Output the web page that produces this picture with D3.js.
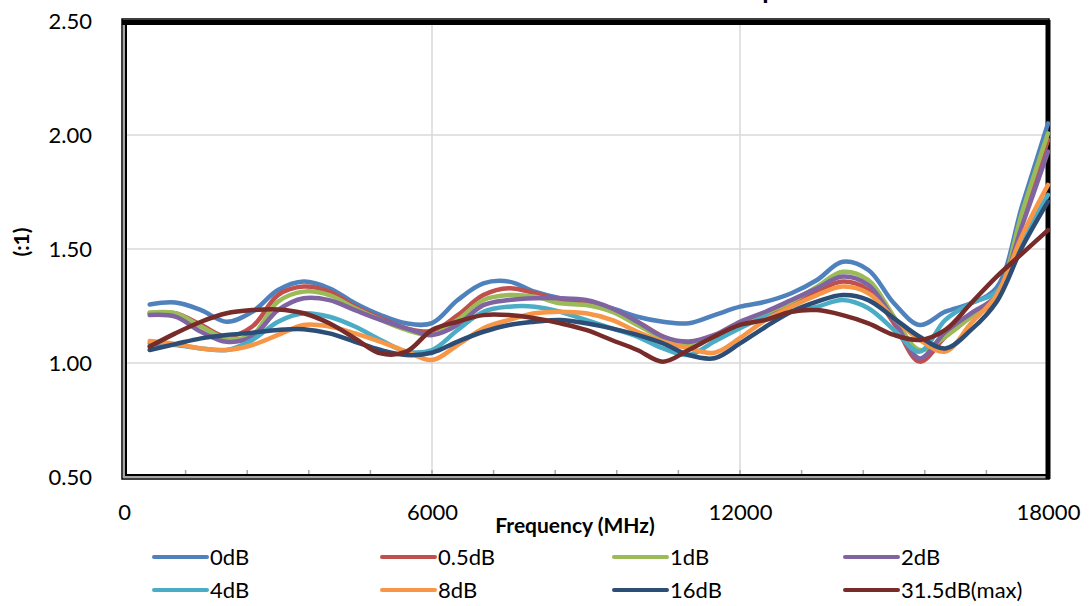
<!DOCTYPE html>
<html>
<head>
<meta charset="utf-8">
<script src="https://cdn.jsdelivr.net/npm/d3@7/dist/d3.min.js"></script>
<style>
  body { margin: 0; background: #fff; }
  svg { font-family: Lato, "Open Sans", sans-serif; }
</style>
</head>
<body>
<svg id="chart" width="1089" height="606"></svg>
<script>
// frequencies (MHz) of the sampled points
const freqs = [500, 1000, 1500, 2000, 2500, 3000, 3500, 4000, 4500, 5000, 5500, 6000,
    6500, 7000, 7500, 8000, 8500, 9000, 9500, 10000, 10500, 11000, 11500, 12000,
    12500, 13000, 13500, 14000, 14500, 15000, 15500, 16000, 16500, 17000, 17500, 18000];

// VSWR per attenuation state
const vswr0 = [1.257, 1.265, 1.232, 1.181, 1.225, 1.320, 1.357, 1.328, 1.262, 1.210, 1.174, 1.175,
    1.276, 1.349, 1.357, 1.313, 1.284, 1.269, 1.240, 1.203, 1.181, 1.174, 1.210, 1.247,
    1.269, 1.306, 1.364, 1.444, 1.408, 1.262, 1.167, 1.225, 1.262, 1.330, 1.693, 2.051];
const vswr05 = [1.218, 1.218, 1.167, 1.116, 1.160, 1.298, 1.335, 1.313, 1.247, 1.196, 1.152, 1.140,
    1.210, 1.298, 1.328, 1.306, 1.276, 1.262, 1.232, 1.181, 1.116, 1.079, 1.116, 1.167,
    1.210, 1.262, 1.313, 1.357, 1.320, 1.174, 1.006, 1.115, 1.203, 1.280, 1.627, 1.978];
const vswr1 = [1.221, 1.218, 1.160, 1.108, 1.123, 1.269, 1.313, 1.298, 1.240, 1.189, 1.145, 1.123,
    1.189, 1.276, 1.298, 1.291, 1.262, 1.254, 1.225, 1.167, 1.108, 1.072, 1.116, 1.160,
    1.218, 1.269, 1.335, 1.400, 1.364, 1.203, 1.057, 1.115, 1.203, 1.291, 1.664, 2.007];
const vswr2 = [1.210, 1.203, 1.137, 1.093, 1.116, 1.232, 1.284, 1.276, 1.232, 1.189, 1.152, 1.123,
    1.167, 1.254, 1.276, 1.284, 1.284, 1.276, 1.240, 1.181, 1.116, 1.094, 1.123, 1.181,
    1.225, 1.276, 1.328, 1.379, 1.342, 1.189, 1.020, 1.137, 1.218, 1.298, 1.605, 1.927];
const vswr4 = [1.086, 1.079, 1.064, 1.057, 1.101, 1.181, 1.218, 1.203, 1.160, 1.101, 1.050, 1.057,
    1.145, 1.225, 1.247, 1.247, 1.225, 1.189, 1.152, 1.116, 1.064, 1.035, 1.094, 1.152,
    1.203, 1.225, 1.247, 1.276, 1.240, 1.145, 1.050, 1.189, 1.262, 1.313, 1.540, 1.737];
const vswr8 = [1.096, 1.083, 1.064, 1.057, 1.079, 1.123, 1.167, 1.160, 1.130, 1.093, 1.050, 1.013,
    1.079, 1.152, 1.189, 1.218, 1.225, 1.218, 1.189, 1.137, 1.094, 1.064, 1.045, 1.110,
    1.189, 1.247, 1.298, 1.335, 1.306, 1.196, 1.101, 1.050, 1.174, 1.298, 1.561, 1.781];
const vswr16 = [1.057, 1.083, 1.108, 1.123, 1.133, 1.145, 1.148, 1.130, 1.093, 1.057, 1.035, 1.045,
    1.094, 1.137, 1.167, 1.181, 1.189, 1.174, 1.152, 1.123, 1.086, 1.035, 1.021, 1.086,
    1.159, 1.225, 1.269, 1.298, 1.276, 1.196, 1.115, 1.064, 1.145, 1.269, 1.510, 1.708];
const vswr315 = [1.072, 1.130, 1.181, 1.218, 1.232, 1.235, 1.218, 1.174, 1.108, 1.042, 1.050, 1.145,
    1.181, 1.210, 1.210, 1.196, 1.174, 1.145, 1.101, 1.057, 1.006, 1.057, 1.116, 1.167,
    1.189, 1.225, 1.232, 1.210, 1.174, 1.123, 1.101, 1.145, 1.262, 1.379, 1.481, 1.583];

const seriesNames = ["0dB", "0.5dB", "1dB", "2dB", "4dB", "8dB", "16dB", "31.5dB(max)"];
const seriesValues = [vswr0, vswr05, vswr1, vswr2, vswr4, vswr8, vswr16, vswr315];
const colors = ["#4F81BD", "#C0504D", "#9BBB59", "#8064A2", "#4BACC6", "#F79646", "#2C4D75", "#772C2A"];

const xTicks = [0, 6000, 12000, 18000];
const yTicks = [0.5, 1.0, 1.5, 2.0, 2.5];

const svg = d3.select("#chart");
const margin = { top: 21, right: 41, bottom: 129, left: 124 };
const width = +svg.attr("width");
const height = +svg.attr("height");

const x = d3.scaleLinear()
    .domain([0, 18000])
    .range([margin.left, width - margin.right]);

const y = d3.scaleLinear()
    .domain([0.5, 2.5])
    .range([height - margin.bottom, margin.top]);

// chart title, pushed up so only its descender shows (as cropped in the reference)
svg.append("text")
    .attr("x", 717)
    .attr("y", -1)
    .attr("font-size", 26)
    .attr("font-weight", "bold")
    .attr("fill", "#000")
    .text("Output VSWR");

// gridlines
svg.append("g")
    .selectAll("line")
    .data([1.0, 1.5, 2.0])
    .enter().append("line")
    .attr("x1", x(0)).attr("x2", x(18000))
    .attr("y1", d => y(d)).attr("y2", d => y(d))
    .attr("stroke", "#d9d9d9")
    .attr("stroke-width", 1.5);

svg.append("g")
    .selectAll("line")
    .data([6000, 12000])
    .enter().append("line")
    .attr("x1", d => x(d)).attr("x2", d => x(d))
    .attr("y1", y(2.5)).attr("y2", y(0.5))
    .attr("stroke", "#d9d9d9")
    .attr("stroke-width", 1.5);

// minor ticks along the bottom, pointing inward
svg.append("g")
    .selectAll("line")
    .data(d3.range(1200, 18000, 1200))
    .enter().append("line")
    .attr("x1", d => x(d)).attr("x2", d => x(d))
    .attr("y1", y(0.5) - 2).attr("y2", y(0.5) - 7)
    .attr("stroke", "#a6a6a6")
    .attr("stroke-width", 1.5);

// plot frame: double line left/bottom, heavy line top/right
const frame = svg.append("g");
frame.append("rect")
    .attr("x", 122).attr("y", 19)
    .attr("width", 927).attr("height", 460)
    .attr("fill", "none").attr("stroke", "#000").attr("stroke-width", 1.5);
frame.append("line")
    .attr("x1", 124).attr("x2", 124).attr("y1", 21).attr("y2", 478)
    .attr("stroke", "#a6a6a6").attr("stroke-width", 2);
frame.append("line")
    .attr("x1", 123).attr("x2", 1048).attr("y1", 477).attr("y2", 477)
    .attr("stroke", "#a6a6a6").attr("stroke-width", 2);
frame.append("line")
    .attr("x1", 126).attr("x2", 126).attr("y1", 22).attr("y2", 476)
    .attr("stroke", "#000").attr("stroke-width", 2);
frame.append("line")
    .attr("x1", 125).attr("x2", 1048).attr("y1", 475).attr("y2", 475)
    .attr("stroke", "#000").attr("stroke-width", 2);
frame.append("line")
    .attr("x1", 122).attr("x2", 1050).attr("y1", 22.5).attr("y2", 22.5)
    .attr("stroke", "#000").attr("stroke-width", 5);
frame.append("line")
    .attr("x1", 1048).attr("x2", 1048).attr("y1", 20).attr("y2", 479)
    .attr("stroke", "#000").attr("stroke-width", 5);

// lines
const line = d3.line()
    .x(d => x(d[0]))
    .y(d => y(d[1]))
    .curve(d3.curveCatmullRom.alpha(0.5));

svg.append("g")
    .selectAll("path")
    .data(seriesValues)
    .enter().append("path")
    .attr("d", vals => line(freqs.map((f, i) => [f, vals[i]])))
    .attr("fill", "none")
    .attr("stroke", (d, i) => colors[i])
    .attr("stroke-width", 4.5)
    .attr("stroke-linejoin", "round")
    .attr("stroke-linecap", "round");

// axes
const yAxis = svg.append("g")
    .attr("transform", `translate(${margin.left},0)`)
    .call(d3.axisLeft(y).tickValues(yTicks).tickFormat(d3.format(".2f")).tickSize(0).tickPadding(32));
yAxis.select(".domain").remove();
yAxis.selectAll("text").attr("font-size", 22).attr("font-family", "Lato, sans-serif").attr("fill", "#000");

const xAxis = svg.append("g")
    .attr("transform", `translate(0,${height - margin.bottom})`)
    .call(d3.axisBottom(x).tickValues(xTicks).tickFormat(d3.format("d")).tickSize(0).tickPadding(27));
xAxis.select(".domain").remove();
xAxis.selectAll("text").attr("font-size", 22).attr("font-family", "Lato, sans-serif").attr("fill", "#000");

// axis titles
svg.append("text")
    .attr("x", 575)
    .attr("y", 533)
    .attr("text-anchor", "middle")
    .attr("font-size", 21)
    .attr("font-weight", "bold")
    .text("Frequency (MHz)");

svg.append("text")
    .attr("transform", "translate(29,242) rotate(-90)")
    .attr("text-anchor", "middle")
    .attr("font-size", 21)
    .attr("font-weight", "bold")
    .text("(:1)");

// legend: 4 columns x 2 rows
const legendX = [154, 382, 614, 845];
const legendY = [557, 590];
const legend = svg.append("g")
    .selectAll("g")
    .data(seriesNames)
    .enter().append("g")
    .attr("transform", (d, i) => `translate(${legendX[i % 4]},${legendY[Math.floor(i / 4)]})`);

legend.append("line")
    .attr("x1", 0).attr("x2", 53)
    .attr("y1", 0).attr("y2", 0)
    .attr("stroke", (d, i) => colors[i])
    .attr("stroke-width", 4)
    .attr("stroke-linecap", "round");

legend.append("text")
    .attr("x", 56)
    .attr("dy", "0.35em")
    .attr("font-size", 22)
    .text(d => d);
</script>
</body>
</html>
